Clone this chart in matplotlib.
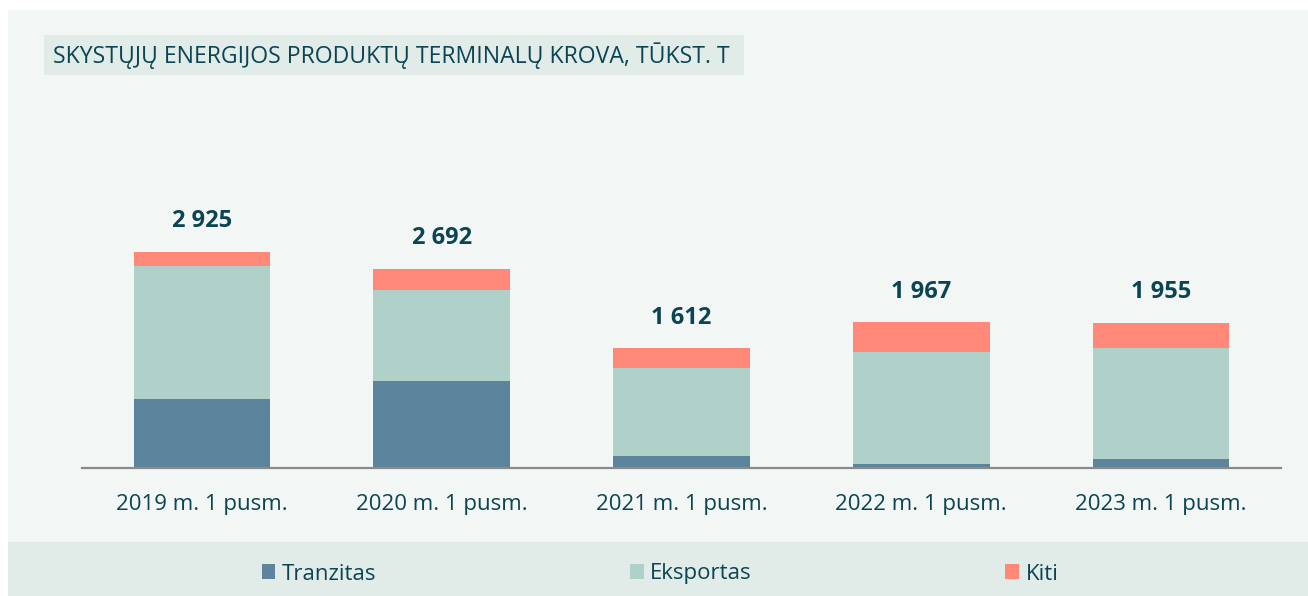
import matplotlib
matplotlib.use('Agg')
import matplotlib.pyplot as plt
from matplotlib.patches import Rectangle
import numpy as np

# data
periods = ['2019 m. 1 pusm.', '2020 m. 1 pusm.', '2021 m. 1 pusm.', '2022 m. 1 pusm.', '2023 m. 1 pusm.']
tranzitas = [930, 1168, 162, 45, 117]
eksportas = [1801, 1231, 1184, 1526, 1496]
kiti = [194, 293, 266, 396, 342]
totals = [2925, 2692, 1612, 1967, 1955]
total_labels = ['2 925', '2 692', '1 612', '1 967', '1 955']
series_names = ['Tranzitas', 'Eksportas', 'Kiti']

c_tranz = '#5d849d'
c_eksp = '#b0d1ca'
c_kiti = '#ff8878'
txt = '#0b4452'
panel = '#f2f6f5'
band = '#e1ece9'

plt.rcParams['font.family'] = ['Open Sans', 'DejaVu Sans']

W, H = 1308, 596
fig = plt.figure(figsize=(W / 100, H / 100), dpi=100, facecolor='white')

def px_rect(x0, y0, x1, y1, color):
    # rectangle given in pixel coords from top-left
    fig.patches.append(Rectangle((x0 / W, 1 - y1 / H), (x1 - x0) / W, (y1 - y0) / H,
                                 transform=fig.transFigure, facecolor=color, edgecolor='none', zorder=-10))

px_rect(8, 10, W, H, panel)
px_rect(8, 542, W, H, band)
px_rect(44, 35, 744, 75, band)
fig.text(53 / W, 1 - 56 / H, 'SKYSTŲJŲ ENERGIJOS PRODUKTŲ TERMINALŲ KROVA, TŪKST. T',
         fontsize=16.6, color=txt, va='center', ha='left')

ax = fig.add_axes([82 / W, 1 - 467.5 / H, (1281 - 82) / W, (467.5 - 150) / H])
ax.set_facecolor('none')
ax.set_zorder(2)
x = np.arange(len(periods))
bw = 0.57
b1 = ax.bar(x, tranzitas, bw, color=c_tranz, label=series_names[0])
b2 = ax.bar(x, eksportas, bw, bottom=tranzitas, color=c_eksp, label=series_names[1])
bottom2 = np.array(tranzitas) + np.array(eksportas)
b3 = ax.bar(x, kiti, bw, bottom=bottom2, color=c_kiti, label=series_names[2])

for i in range(len(periods)):
    ax.annotate(total_labels[i], (x[i], totals[i]), xytext=(0, 13.5), textcoords='offset points',
                ha='center', va='bottom', fontsize=17, fontweight='bold', color=txt)

ax.set_xlim(-0.5, len(periods) - 0.5)
ax.set_ylim(0, 4300)
ax.set_xticks(x)
ax.set_xticklabels(periods, fontsize=16, color=txt)
ax.tick_params(axis='x', length=0, pad=19)
ax.set_yticks([])
for s in ['top', 'right', 'left']:
    ax.spines[s].set_visible(False)
ax.spines['bottom'].set_color('#8a8a8a')
ax.spines['bottom'].set_linewidth(1.6)

leg = fig.legend(handles=[b1, b2, b3], labels=series_names, loc='center', ncol=3,
                 bbox_to_anchor=(660 / W, 1 - 574 / H), frameon=False, fontsize=16,
                 handlelength=0.62, handleheight=0.62, handletextpad=0.3, columnspacing=11.4)
for t in leg.get_texts():
    t.set_color(txt)

fig.savefig('out.png', dpi=100, facecolor='white')
